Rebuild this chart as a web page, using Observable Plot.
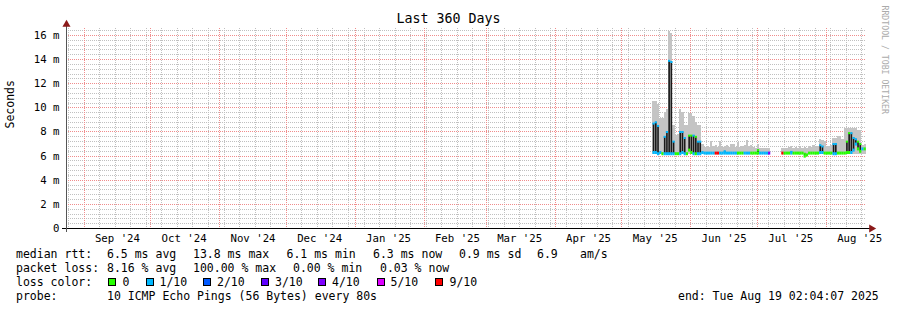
<!DOCTYPE html>
<html><head><meta charset="utf-8">
<script src="https://cdn.jsdelivr.net/npm/d3@7"></script>
<script src="https://cdn.jsdelivr.net/npm/@observablehq/plot@0.6"></script>
<style>
body{margin:0;background:#fff;}
#wrap{position:relative;width:897px;height:310px;overflow:hidden;font-family:"DejaVu Sans Mono",monospace;color:#000;background:#fff;}
#wrap svg{position:absolute;left:0;top:0;}
.lg{position:absolute;font-size:11.5px;line-height:14px;white-space:pre;}
.sq{position:absolute;width:6px;height:6px;border:1px solid #000;}
#title{position:absolute;left:0;top:11px;width:897px;text-align:center;font-size:13.3px;line-height:16px;white-space:pre;}
</style></head><body><div id="wrap"></div>
<script>
// ---------- data ----------
const days = [
"2025-05-15","2025-05-16","2025-05-17","2025-05-18","2025-05-19","2025-05-20","2025-05-21","2025-05-22","2025-05-23","2025-05-24","2025-05-25","2025-05-26","2025-05-27","2025-05-28","2025-05-29","2025-05-30","2025-05-31",
"2025-06-01","2025-06-02","2025-06-03","2025-06-04","2025-06-05","2025-06-06","2025-06-07","2025-06-08","2025-06-09","2025-06-10","2025-06-11","2025-06-12","2025-06-13","2025-06-14","2025-06-15","2025-06-16","2025-06-17","2025-06-18","2025-06-19","2025-06-20","2025-06-21","2025-06-22","2025-06-23","2025-06-24","2025-06-25","2025-06-26","2025-06-27","2025-06-28","2025-06-29","2025-06-30",
"2025-07-01","2025-07-02","2025-07-03","2025-07-04","2025-07-05","2025-07-06",
"2025-07-12","2025-07-13","2025-07-14","2025-07-15","2025-07-16","2025-07-17","2025-07-18","2025-07-19","2025-07-20","2025-07-21","2025-07-22","2025-07-23","2025-07-24","2025-07-25","2025-07-26","2025-07-27","2025-07-28","2025-07-29","2025-07-30","2025-07-31",
"2025-08-01","2025-08-02","2025-08-03","2025-08-04","2025-08-05","2025-08-06","2025-08-07","2025-08-08","2025-08-09","2025-08-10","2025-08-11","2025-08-12","2025-08-13","2025-08-14","2025-08-15","2025-08-16","2025-08-17","2025-08-18"
];
// smoke top (max rtt of the day), ms
const smokeTop = [
10.5,10.5,10.3,9.1,9.1,9.6,9.9,16.3,16.2,8.5,7.7,7.8,9.9,9.6,8.5,8.5,9.5,
9.5,9.3,8.8,8.5,8.5,7.0,6.7,6.8,6.7,7.2,6.8,6.9,6.7,7.2,6.7,6.8,6.9,6.7,7.0,7.0,6.7,7.1,6.7,6.8,6.9,7.3,6.8,6.9,6.7,6.6,
7.0,6.6,6.6,6.6,6.6,6.6,
6.6,6.6,6.6,6.7,6.8,6.6,6.7,6.6,6.7,6.6,6.7,6.6,6.8,6.7,6.9,6.7,6.8,7.4,7.3,7.2,
6.8,6.8,6.9,7.5,7.5,7.6,7.6,7.4,8.3,8.3,8.3,8.3,8.3,8.3,8.1,8.1,6.9,7.0
];
// median rtt swing within the day: high and low, ms
const medHigh = [
8.7,8.8,8.5,6.3,6.2,7.6,8.0,13.9,13.8,7.2,6.2,6.2,8.0,8.0,7.5,6.2,7.7,
7.7,7.7,7.6,7.2,7.2,6.3,6.25,6.25,6.25,6.25,6.25,6.25,6.25,6.25,6.25,6.4,6.25,6.25,6.25,6.25,6.25,6.25,6.25,6.25,6.25,6.25,6.25,6.25,6.25,6.25,
6.5,6.25,6.25,6.25,6.25,6.25,
6.25,6.25,6.25,6.25,6.35,6.25,6.25,6.25,6.25,6.25,6.2,6.1,6.25,6.25,6.25,6.25,6.25,6.9,6.8,6.25,
6.25,6.25,6.25,7.0,7.0,6.25,6.25,6.25,6.25,7.2,7.9,7.9,7.5,7.4,7.2,7.0,6.6,6.6
];
const medLow = [
6.3,6.3,6.2,6.3,6.2,6.2,6.2,6.2,6.2,6.2,6.2,6.2,6.2,6.3,6.2,6.2,6.5,
6.3,6.2,6.2,6.2,6.2,6.3,6.25,6.25,6.25,6.25,6.25,6.25,6.25,6.25,6.25,6.25,6.25,6.25,6.25,6.25,6.25,6.25,6.25,6.25,6.25,6.25,6.25,6.25,6.25,6.25,
6.25,6.25,6.25,6.25,6.25,6.25,
6.25,6.25,6.25,6.25,6.25,6.25,6.25,6.25,6.25,6.25,6.0,6.1,6.25,6.25,6.25,6.25,6.25,6.3,6.3,6.25,
6.25,6.25,6.25,6.2,6.2,6.25,6.25,6.25,6.25,6.3,6.3,6.3,6.5,7.0,6.6,6.4,6.6,6.6
];
// loss class index into lossLabels / lossColors
const lossIdx = [
1,1,1,1,0,1,1,1,1,1,0,0,1,1,1,0,0,
0,1,0,1,1,1,1,1,1,1,1,6,6,1,1,1,1,1,1,1,1,0,0,0,1,1,1,0,0,0,
0,1,1,1,1,4,
6,0,0,0,1,0,0,0,0,0,0,0,0,0,0,0,0,1,1,0,
0,0,0,1,1,0,0,0,0,0,0,1,1,1,0,0,1,0
];
const lossLabels = ["0","1/10","2/10","3/10","4/10","5/10","9/10"];
const lossColors = ["#26ff00","#00b8ff","#0059ff","#5e00ff","#7e00ff","#dd00ff","#ff0000"];
const yTicks = [0,2,4,6,8,10,12,14,16];
const titleText = "Last 360 Days";
const yLabel = "Seconds";
const rttLabel = "median rtt:";
const rttStats = ["6.5 ms avg","13.8 ms max","6.1 ms min","6.3 ms now","0.9 ms sd","6.9","am/s"];
const lossLabel = "packet loss:";
const lossStats = ["8.16 % avg","100.00 % max","0.00 % min","0.03 % now"];
const colorLabel = "loss color:";
const probeLabel = "probe:";
const probeText = "10 ICMP Echo Pings (56 Bytes) every 80s";
const endText = "end: Tue Aug 19 02:04:07 2025";
const watermark = "RRDTOOL / TOBI OETIKER";
const minRtt = 6.1;

// ---------- build ----------
const parse = d3.utcParse("%Y-%m-%d");
const endTime = new Date(Date.UTC(2025, 7, 19, 2, 4, 7));
const startTime = d3.utcDay.offset(endTime, -360);
const yMax = 16.58;
const rows = days.map((d, i) => {
  const day = parse(d);
  return {day, next: d3.utcDay.offset(day, 1), top: smokeTop[i], hi: medHigh[i], lo: medLow[i], color: lossColors[lossIdx[i]]};
});
const spans = rows.filter(r => r.hi > r.lo);
const months = d3.utcMonth.range(startTime, endTime);
const weeks = d3.utcSunday.range(startTime, endTime);
const labelTicks = d3.utcMonth.range(d3.utcMonth.floor(startTime), endTime)
  .map(m => d3.utcDay.offset(m, 15)).filter(t => t > startTime && t < endTime);
const fmtMonth = d3.utcFormat("%b '%y");
const majorY = yTicks.filter(v => v > 0);
const minorY = d3.range(1, 42).map(i => +(i * 0.4).toFixed(1)).filter(v => v < yMax && Math.abs(v / 2 - Math.round(v / 2)) > 1e-6);
const crisp = {shapeRendering: "crispEdges"};

const chart = Plot.plot({
  width: 897, height: 310,
  marginTop: 28, marginBottom: 82, marginLeft: 66, marginRight: 31,
  style: {fontFamily: "'DejaVu Sans Mono', monospace", fontSize: "10.7px", background: "transparent", color: "#000"},
  x: {type: "utc", domain: [startTime, endTime]},
  y: {domain: [0, yMax]},
  color: {type: "identity"},
  marks: [
    Plot.ruleX(weeks, {stroke: "#c0c0c0", strokeDasharray: "1,1", ...crisp}),
    Plot.ruleY(minorY, {stroke: "#c0c0c0", strokeDasharray: "1,1", ...crisp}),
    Plot.ruleX(months, {stroke: "#f08c8c", strokeDasharray: "1,1", ...crisp}),
    Plot.ruleY(majorY, {stroke: "#f08c8c", strokeDasharray: "1,1", ...crisp}),
    Plot.rectY(rows, {x1: "day", x2: "next", y1: () => minRtt, y2: "top", fill: "#c4c4c4", ...crisp}),
    Plot.rect(spans, {x1: "day", x2: "next", y1: "lo", y2: "hi", fill: "#1a1a1a", insetLeft: 0.3, insetRight: 0.3}),
    Plot.ruleY(rows, {y: "lo", x1: "day", x2: "next", stroke: "color", strokeWidth: 3}),
    Plot.ruleY(spans, {y: "hi", x1: "day", x2: "next", stroke: "color", strokeWidth: 2}),
    Plot.axisX({ticks: labelTicks, tickFormat: d => fmtMonth(d3.utcMonth.floor(d)), tickSize: 0, tickPadding: 6, label: null}),
    Plot.axisY({ticks: yTicks, tickFormat: d => d === 0 ? "0" : d + " m", tickSize: 0, tickPadding: 7, label: null}),
    Plot.ruleY([0], {stroke: "#000", insetLeft: -4, insetRight: -4, ...crisp}),
    Plot.ruleX([startTime], {stroke: "#555", insetTop: -4, insetBottom: -4, ...crisp}),
    Plot.dot([{t: startTime, v: yMax}], {x: "t", y: "v", symbol: "triangle", r: 3, fill: "#8b1a1a", stroke: "none", dy: -4}),
    Plot.dot([{t: endTime, v: 0}], {x: "t", y: "v", symbol: "triangle", r: 3, fill: "#8b1a1a", stroke: "none", rotate: 90, dx: 5}),
    Plot.text([yLabel], {frameAnchor: "left", dx: -56, rotate: -90, fontSize: 11.5}),
    Plot.text([watermark], {frameAnchor: "top-right", dx: 21.5, dy: -23, rotate: 90, textAnchor: "start", fontSize: 8.2, fill: "#aaaaaa"})
  ]
});
const wrap = document.getElementById("wrap");
wrap.appendChild(chart);

function addText(txt, left, top, cls) {
  const s = document.createElement("div");
  s.className = cls || "lg";
  s.textContent = txt;
  s.style.left = left + "px";
  s.style.top = top + "px";
  wrap.appendChild(s);
  return s;
}
const t = document.createElement("div");
t.id = "title"; t.textContent = titleText; wrap.appendChild(t);

// legend layout
const rowTop = [247, 261, 275, 289];
const col0 = 16, col1 = 107;
addText(rttLabel, col0, rowTop[0]);
[107, 193, 286.5, 373, 459, 537, 580].forEach((x, i) => addText(rttStats[i], x, rowTop[0]));
addText(lossLabel, col0, rowTop[1]);
[107, 193, 293, 380].forEach((x, i) => addText(lossStats[i], x, rowTop[1]));
addText(colorLabel, col0, rowTop[2]);
const sqX = [108, 146, 203, 261, 318, 376.5, 435];
const labX = [122.5, 159.5, 217, 275, 332, 390.5, 449.5];
lossLabels.forEach((lab, i) => {
  const sq = document.createElement("div");
  sq.className = "sq";
  sq.style.left = sqX[i] + "px";
  sq.style.top = "278px";
  sq.style.background = lossColors[i];
  wrap.appendChild(sq);
  addText(lab, labX[i], rowTop[2]);
});
addText(probeLabel, col0, rowTop[3]);
addText(probeText, col1, rowTop[3]);
addText(endText, 678, rowTop[3]);
</script></body></html>
